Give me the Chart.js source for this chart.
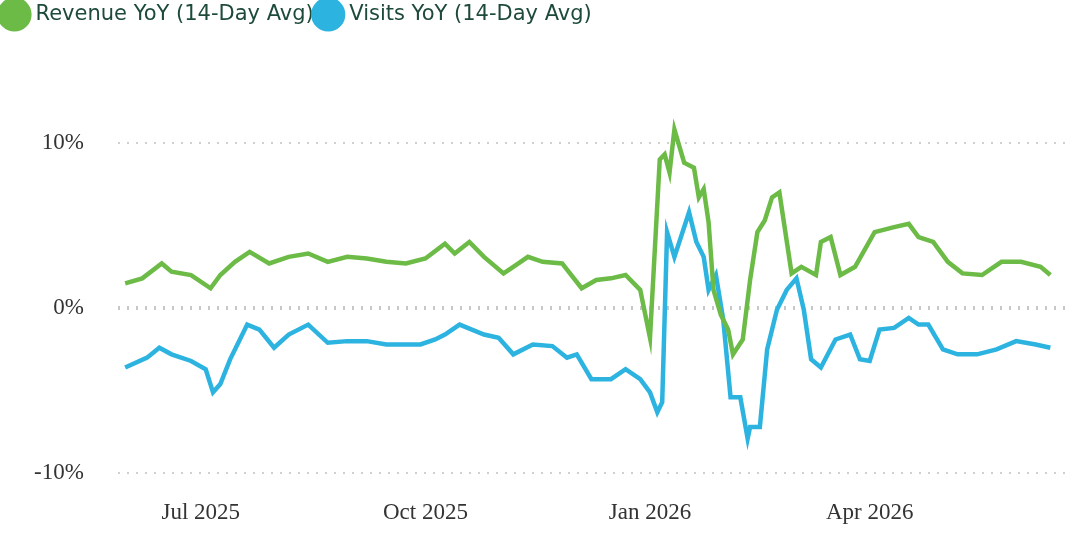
<!DOCTYPE html>
<html>
<head>
<meta charset="utf-8">
<script src="https://cdn.jsdelivr.net/npm/chart.js@4"></script>
<style>
  body { margin: 0; background: #fff; }
  #wrap { width: 1069px; height: 536px; }
</style>
</head>
<body>
<div id="wrap"><canvas id="chart"></canvas></div>
<script>
// days counted from 2025-05-31
const revenueDays = [0, 7, 15, 19, 27, 35, 39, 45, 51, 59, 67, 75, 83, 91, 99, 107, 115, 123, 131, 135, 141, 147, 155, 159, 165, 171, 179, 187, 193, 199, 205, 211, 215, 219, 221, 223, 225, 229, 233, 235, 237, 239, 241, 244, 247, 249, 253, 256, 259, 262, 265, 268, 273, 277, 283, 285, 289, 293, 299, 307, 315, 321, 325, 331, 337, 343, 351, 359, 367, 375, 379];
const revenueValues = [1.5, 1.8, 2.7, 2.2, 2.0, 1.2, 2.0, 2.8, 3.4, 2.7, 3.1, 3.3, 2.8, 3.1, 3.0, 2.8, 2.7, 3.0, 3.9, 3.3, 4.0, 3.1, 2.1, 2.5, 3.1, 2.8, 2.7, 1.2, 1.7, 1.8, 2.0, 1.1, -1.8, 9.0, 9.3, 8.2, 10.8, 8.8, 8.5, 6.7, 7.2, 5.2, 1.1, -0.4, -1.3, -2.8, -1.9, 1.7, 4.6, 5.3, 6.7, 7.0, 2.1, 2.5, 2.0, 4.0, 4.3, 2.0, 2.5, 4.6, 4.9, 5.1, 4.3, 4.0, 2.8, 2.1, 2.0, 2.8, 2.8, 2.5, 2.0];

const visitsDays = [0, 9, 14, 19, 27, 33, 36, 39, 43, 47, 50, 55, 61, 67, 75, 83, 91, 99, 107, 121, 127, 131, 137, 147, 153, 159, 167, 175, 181, 185, 191, 199, 205, 211, 215, 218, 220, 222, 225, 231, 234, 237, 239, 242, 245, 248, 252, 256, 255, 260, 263, 267, 271, 275, 278, 281, 285, 291, 297, 301, 305, 309, 315, 321, 325, 329, 335, 341, 349, 357, 365, 373, 379];
const visitsValues = [-3.6, -3.0, -2.4, -2.8, -3.2, -3.7, -5.1, -4.6, -3.1, -1.9, -1.0, -1.3, -2.4, -1.6, -1.0, -2.1, -2.0, -2.0, -2.2, -2.2, -1.9, -1.6, -1.0, -1.6, -1.8, -2.8, -2.2, -2.3, -3.0, -2.8, -4.3, -4.3, -3.7, -4.3, -5.1, -6.3, -5.7, 4.6, 3.1, 5.8, 4.0, 3.1, 1.1, 2.0, -0.7, -5.4, -5.4, -7.2, -7.9, -7.2, -2.5, -0.1, 1.1, 1.8, -0.1, -3.1, -3.6, -1.9, -1.6, -3.1, -3.2, -1.3, -1.2, -0.6, -1.0, -1.0, -2.5, -2.8, -2.8, -2.5, -2.0, -2.2, -2.4];

const tickDays = [31, 123, 215, 305];
const tickLabels = ['Jul 2025', 'Oct 2025', 'Jan 2026', 'Apr 2026'];

function toPoints(days, vals) {
    return days.map((d, i) => ({ x: d, y: vals[i] }))
        .filter(p => p.y !== undefined)
        .sort((a, b) => a.x - b.x);
}

// push the plot down below the legend
const legendSpacer = {
    id: 'legendSpacer',
    beforeInit(chart) {
        const origFit = chart.legend.fit;
        chart.legend.fit = function () {
            origFit.bind(chart.legend)();
            this.height += 50;
        };
    }
};

new Chart(document.getElementById('chart'), {
    type: 'line',
    plugins: [legendSpacer],
    data: {
        datasets: [{
            label: 'Revenue YoY (14-Day Avg)',
            data: toPoints(revenueDays, revenueValues),
            borderColor: '#6cbb47',
            backgroundColor: '#6cbb47',
            borderWidth: 4.5,
            pointRadius: 0,
            tension: 0
        }, {
            label: 'Visits YoY (14-Day Avg)',
            data: toPoints(visitsDays, visitsValues),
            borderColor: '#2cb3e0',
            backgroundColor: '#2cb3e0',
            borderWidth: 4.5,
            pointRadius: 0,
            tension: 0
        }]
    },
    options: {
        responsive: true,
        maintainAspectRatio: false,
        animation: false,
        layout: { padding: { left: 0, right: 4, top: 0, bottom: 2 } },
        plugins: {
            legend: {
                position: 'top',
                align: 'start',
                labels: {
                    usePointStyle: true,
                    pointStyle: 'circle',
                    boxWidth: 21,
                    boxHeight: 21,
                    padding: 4,
                    color: '#1e4a3a',
                    font: { family: 'DejaVu Sans', size: 21 }
                }
            },
            tooltip: { enabled: false }
        },
        scales: {
            x: {
                type: 'linear',
                min: -3,
                max: 385,
                afterBuildTicks: axis => { axis.ticks = tickDays.map(v => ({ value: v })); },
                ticks: {
                    callback: v => tickLabels[tickDays.indexOf(v)],
                    color: '#333',
                    font: { family: 'Liberation Serif', size: 23 },
                    maxRotation: 0
                },
                grid: { display: false },
                border: { display: false }
            },
            y: {
                min: -10.9,
                max: 13.5,
                afterBuildTicks: axis => { axis.ticks = [-10, 0, 10].map(v => ({ value: v })); },
                ticks: {
                    callback: v => v + '%',
                    color: '#333',
                    font: { family: 'Liberation Serif', size: 23 },
                    padding: 34
                },
                grid: {
                    color: ctx => ctx.tick && ctx.tick.value === 0 ? '#c8c8c8' : '#cfcfcf',
                    lineWidth: ctx => ctx.tick && ctx.tick.value === 0 ? 4 : 2,
                    drawTicks: false
                },
                border: { display: false, dash: [2, 7] }
            }
        }
    }
});
</script>
</body>
</html>
